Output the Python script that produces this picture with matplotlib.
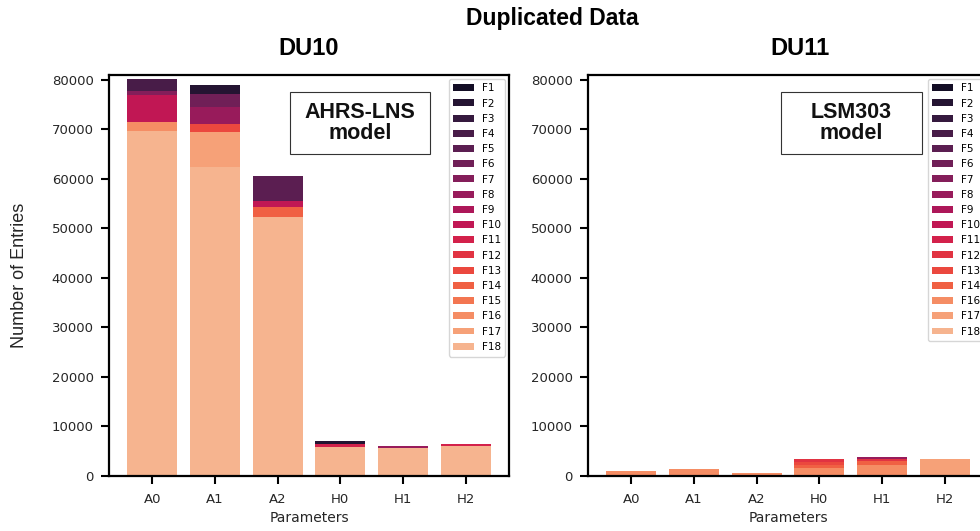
import matplotlib
matplotlib.use("Agg")
import matplotlib.pyplot as plt
import seaborn as sns
import numpy as np
from matplotlib.patches import Patch, Rectangle

params = ["A0", "A1", "A2", "H0", "H1", "H2"]
series = [f"F{i}" for i in range(1, 19)]

# DU10 values (per series, per parameter)
du10 = {
    "F2":  [0, 1800, 0, 600, 0, 0],
    "F4":  [2400, 0, 0, 0, 0, 0],
    "F5":  [0, 0, 5050, 0, 0, 0],
    "F6":  [0, 2700, 0, 0, 0, 0],
    "F7":  [800, 0, 0, 0, 0, 0],
    "F8":  [0, 3400, 0, 0, 300, 0],
    "F10": [5400, 0, 1350, 0, 0, 0],
    "F11": [0, 0, 0, 500, 0, 450],
    "F13": [0, 1750, 0, 0, 0, 0],
    "F14": [0, 0, 1950, 0, 0, 0],
    "F16": [1900, 0, 0, 0, 0, 0],
    "F17": [0, 6900, 0, 0, 0, 0],
    "F18": [69700, 62500, 52300, 5900, 5700, 6000],
}
# DU11 values
du11 = {
    "F8":  [0, 0, 0, 0, 450, 0],
    "F12": [0, 0, 0, 500, 450, 0],
    "F13": [0, 0, 0, 650, 0, 0],
    "F14": [0, 0, 0, 650, 700, 0],
    "F16": [1000, 1350, 650, 1550, 2250, 0],
    "F17": [0, 0, 0, 0, 0, 3350],
}
du11_legend = [s for s in series if s != "F15"]

colors = dict(zip(series, sns.color_palette("rocket", 20)[:18]))

fig = plt.figure(figsize=(9.8, 5.31), dpi=100)
W, H = 980, 531
def ax_rect(x0, x1, ytop, ybot):
    return [x0 / W, 1 - ybot / H, (x1 - x0) / W, (ybot - ytop) / H]

ax1 = fig.add_axes(ax_rect(109, 509, 75, 476))
ax2 = fig.add_axes(ax_rect(588, 988, 75, 476))

tick_color = "#262626"

def draw(ax, data, legend_names, box_text, box_px, title, title_x):
    x = np.arange(len(params))
    bottom = np.zeros(len(params))
    for s in reversed(series):
        if s in data:
            vals = np.array(data[s], dtype=float)
            ax.bar(x, vals, width=0.8, bottom=bottom, color=colors[s], linewidth=0)
            bottom += vals
    ax.set_xticks(x)
    ax.set_xticklabels(params)
    ax.set_ylim(0, 81000)
    ax.set_yticks(np.arange(0, 80001, 10000))
    ax.tick_params(axis="both", labelsize=9.5, colors="black", labelcolor=tick_color,
                   length=6, width=1.5, direction="out", pad=5)
    ax.tick_params(axis="x", pad=6)
    for sp in ax.spines.values():
        sp.set_linewidth(1.6)
        sp.set_color("black")
    ax.set_xlabel("Parameters", fontsize=10, color=tick_color, labelpad=4)
    handles = [Patch(facecolor=colors[s], edgecolor="none", label=s) for s in legend_names]
    leg = ax.legend(handles=handles, loc="upper right", fontsize=7.5, frameon=True,
                    borderaxespad=0.35, handlelength=2.0, handleheight=0.65,
                    labelspacing=0.5, handletextpad=0.7, borderpad=0.45)
    leg.get_frame().set_edgecolor("#cccccc")
    x0, x1, y0, y1 = box_px
    fig.patches.append(Rectangle((x0 / W, 1 - y1 / H), (x1 - x0) / W, (y1 - y0) / H,
                                 transform=fig.transFigure, facecolor="white",
                                 edgecolor="#333333", linewidth=0.8, zorder=5))
    fig.text((x0 + x1) / 2 / W, 1 - (y0 + y1) / 2 / H, box_text, ha="center", va="center",
             fontsize=15.5, fontweight="bold", family=["Liberation Sans", "DejaVu Sans"],
             linespacing=1.05, zorder=6, color="#111111")
    fig.text(title_x / W, 1 - 48 / H, title, ha="center", va="center", fontsize=17,
             fontweight="bold", family=["Liberation Sans Narrow", "Liberation Sans", "DejaVu Sans"])

draw(ax1, du10, series, "AHRS-LNS\nmodel", (290, 430, 92, 154), "DU10", 309)
draw(ax2, du11, du11_legend, "LSM303\nmodel", (781, 922, 92, 154), "DU11", 800)

ax1.set_ylabel("Number of Entries", fontsize=13, color=tick_color,
               family=["Liberation Sans", "DejaVu Sans"], labelpad=17)

fig.text(552 / W, 1 - 18 / H, "Duplicated Data", ha="center", va="center", fontsize=16.5,
         fontweight="bold", family=["Liberation Sans Narrow", "Liberation Sans", "DejaVu Sans"])

fig.savefig("out.png", dpi=100)
